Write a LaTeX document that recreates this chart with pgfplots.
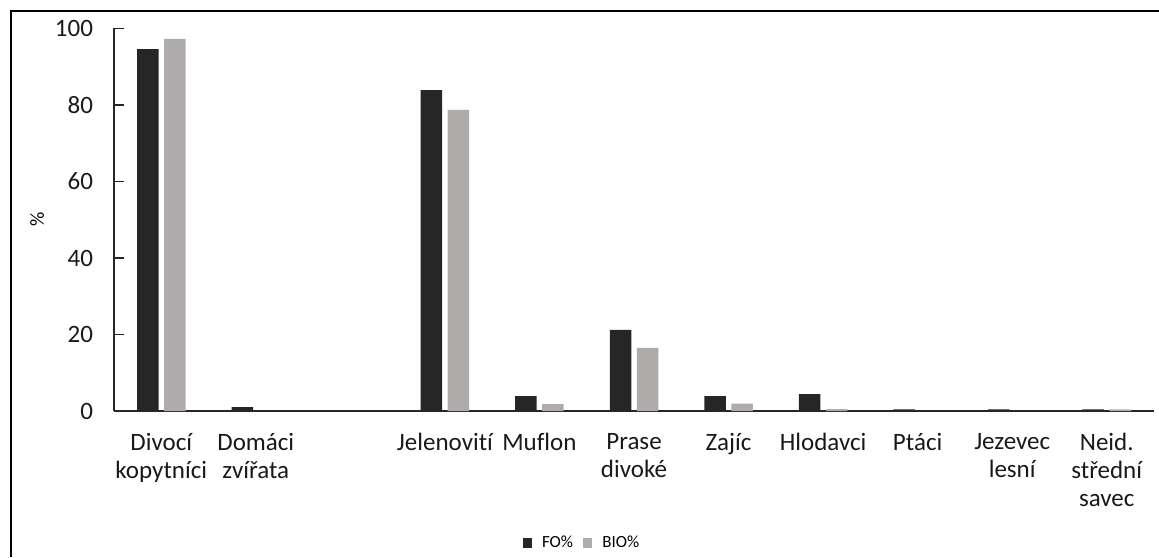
\documentclass[border=0pt]{standalone}
\usepackage{pgfplots}
\pgfplotsset{compat=1.18}
\usepackage{fontspec}
\setmainfont{Carlito}[Ligatures=NoCommon]
\definecolor{foc}{RGB}{38,38,38}
\definecolor{bioc}{RGB}{175,171,171}
\pgfplotsset{sqlegend/.style={legend image code/.code={\fill[##1] (0pt,-2.3pt) rectangle (4.6pt,2.3pt);}}}

\pgfplotstableread{
x y
0 94.6
1 1.0
3 83.9
4 3.9
5 21.2
6 3.9
7 4.4
8 0.4
9 0.4
10 0.4
}\fo

\pgfplotstableread{
x y
0 97.3
3 78.7
4 1.8
5 16.5
6 1.9
7 0.5
10 0.4
}\bio

\begin{document}
\begin{tikzpicture}
\useasboundingbox (0,0) rectangle (579.5pt,278.5pt);
\draw[line width=1pt] (5.5pt,0pt) -- (5.5pt,273pt) -- (579.5pt,273pt);
\begin{axis}[
    at={(57pt,73pt)}, anchor=south west,
    scale only axis,
    width=520pt, height=191.25pt,
    ybar=2.75pt, bar width=10.75pt,
    xmin=-0.5, xmax=10.5,
    ymin=0, ymax=100,
    axis lines=left,
    axis line style={-, line width=0.8pt, black!85},
    xtick={0,...,10},
    xticklabels={{Divocí\\kopytníci},{Domáci\\zvířata},{},{Jelenovití},{Muflon},{Prase\\divoké},{Zajíc},{Hlodavci},{Ptáci},{Jezevec\\lesní},{Neid.\\střední\\savec}},
    x tick style={draw=none},
    xticklabel style={align=center, font=\fontsize{12.5pt}{14pt}\selectfont, yshift=-5pt, black!90},
    ytick={0,20,...,100},
    y tick style={black!85, line width=0.6pt},
    major tick length=5pt,
    ytick align=inside,
    yticklabel style={font=\fontsize{12.5pt}{13.5pt}\selectfont, xshift=-7pt, black!90},
    /pgf/number format/assume math mode=true,
    ylabel={\%},
    ylabel style={at={(axis description cs:-0.074,0.5)}, anchor=center, font=\fontsize{10pt}{11pt}\selectfont},
    legend style={at={(axis description cs:0.451,-0.345)}, anchor=center, draw=none,
        font=\fontsize{8.5pt}{9pt}\selectfont, column sep=3pt, fill=none},
    legend columns=2,
    sqlegend,
    clip=false,
]
\addplot[draw=none, fill=foc] table[x=x, y=y] {\fo};
\addplot[draw=none, fill=bioc] table[x=x, y=y] {\bio};
\legend{FO\%, BIO\%}
\end{axis}
\end{tikzpicture}
\end{document}
